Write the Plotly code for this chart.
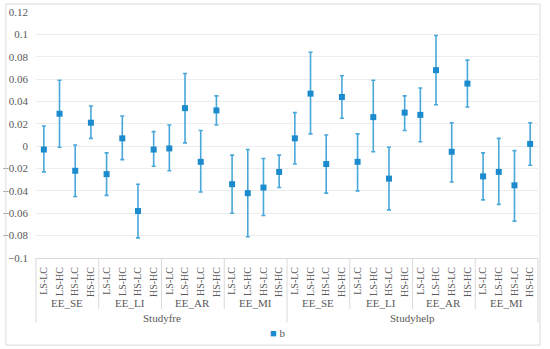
import plotly.graph_objects as go

top_groups = ["Studyfre", "Studyhelp"]
mid_groups = ["EE_SE", "EE_LI", "EE_AR", "EE_MI"]
sub_cats = ["LS-LC", "LS-HC", "HS-LC", "HS-HC"]
series_name = "b"

b_values = [
    -0.003, 0.029, -0.022, 0.021,
    -0.025, 0.007, -0.058, -0.003,
    -0.002, 0.034, -0.014, 0.032,
    -0.034, -0.042, -0.037, -0.023,
    0.007, 0.047, -0.016, 0.044,
    -0.014, 0.026, -0.029, 0.030,
    0.028, 0.068, -0.005, 0.056,
    -0.027, -0.023, -0.035, 0.002,
]
upper = [
    0.018, 0.059, 0.001, 0.036,
    -0.006, 0.027, -0.034, 0.013,
    0.019, 0.065, 0.014, 0.045,
    -0.008, -0.003, -0.011, -0.008,
    0.030, 0.084, 0.010, 0.063,
    0.011, 0.059, -0.001, 0.045,
    0.052, 0.099, 0.021, 0.077,
    -0.006, 0.007, -0.004, 0.021,
]
lower = [
    -0.023, -0.001, -0.045, 0.007,
    -0.044, -0.012, -0.082, -0.018,
    -0.022, 0.003, -0.041, 0.019,
    -0.060, -0.081, -0.062, -0.037,
    -0.016, 0.011, -0.042, 0.025,
    -0.040, -0.005, -0.057, 0.014,
    0.004, 0.037, -0.032, 0.035,
    -0.048, -0.052, -0.067, -0.017,
]

labels = [s for _ in top_groups for _ in mid_groups for s in sub_cats]
n = len(labels)
xs = list(range(n))
err_plus = [u - v for u, v in zip(upper, b_values)]
err_minus = [v - l for v, l in zip(b_values, lower)]

font_family = "Liberation Serif"
text_color = "#595959"
line_color = "#d9d9d9"
marker_color = "#1b8bcd"

fig = go.Figure()
fig.add_trace(go.Scatter(
    x=xs, y=b_values, mode="markers", name=series_name, showlegend=False,
    marker=dict(symbol="square", size=6, color=marker_color),
    error_y=dict(type="data", symmetric=False, array=err_plus, arrayminus=err_minus,
                 color="#4aa7da", thickness=1.6, width=2),
))

shapes = []
annotations = []
n_sub = len(sub_cats)
n_mid = len(mid_groups)
for t in range(len(top_groups)):
    for m in range(n_mid):
        start = (t * n_mid + m) * n_sub
        x_left = start / n
        is_top = (m == 0)
        shapes.append(dict(type="line", xref="paper", yref="paper",
                           x0=x_left, x1=x_left, y0=0, y1=-0.262 if is_top else -0.207,
                           line=dict(color=line_color, width=1)))
        annotations.append(dict(x=start + (n_sub - 1) / 2, xref="x", y=0, yref="paper",
                                yanchor="middle", yshift=-45, text=mid_groups[m], showarrow=False,
                                font=dict(family=font_family, size=11, color=text_color)))
    annotations.append(dict(x=t * n_mid * n_sub + (n_mid * n_sub - 1) / 2, xref="x", y=0,
                            yref="paper", yanchor="middle", yshift=-60, text=top_groups[t],
                            showarrow=False,
                            font=dict(family=font_family, size=11, color=text_color)))
shapes.append(dict(type="line", xref="paper", yref="paper", x0=1, x1=1, y0=0, y1=-0.262,
                   line=dict(color=line_color, width=1)))
shapes.append(dict(type="rect", xref="paper", yref="paper", x0=-0.06, x1=1.004,
                   y0=-0.354, y1=1.0325, line=dict(color=line_color, width=1)))
annotations.append(dict(x=0.482, xref="paper", y=0, yref="paper", yanchor="middle",
                        yshift=-75, xanchor="center", showarrow=False,
                        text=f'<span style="color:{marker_color}">■</span> {series_name}',
                        font=dict(family=font_family, size=11, color=text_color)))

fig.update_layout(
    width=550, height=349,
    margin=dict(l=36, r=12, t=12, b=91, autoexpand=False),
    paper_bgcolor="white", plot_bgcolor="white",
    font=dict(family=font_family, color=text_color),
    showlegend=False,
    shapes=shapes,
    annotations=annotations,
)
fig.update_xaxes(
    range=[-0.5, n - 0.5], tickmode="array", tickvals=xs, ticktext=labels,
    tickangle=-90, tickfont=dict(family=font_family, size=10, color=text_color),
    showgrid=False, zeroline=False, showline=True, linecolor=line_color, linewidth=1,
    ticks="", automargin=False, ticklabelstandoff=4,
)
fig.update_yaxes(
    range=[-0.1, 0.12], dtick=0.02, tick0=0,
    tickfont=dict(family=font_family, size=11, color=text_color),
    showgrid=True, gridcolor="#ececec", gridwidth=1, zeroline=False,
    showline=False, ticks="", ticklabelstandoff=7, automargin=False,
)

fig.write_html("out.html", config={"displayModeBar": False},
               post_script="document.body.style.margin='0';")
